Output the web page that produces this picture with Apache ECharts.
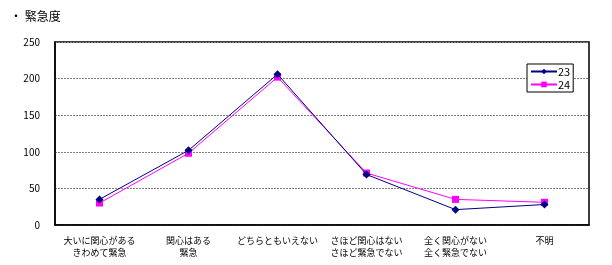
<!DOCTYPE html>
<html><head><meta charset="utf-8">
<script src="https://cdn.jsdelivr.net/npm/echarts@6/dist/echarts.min.js"></script>
<style>html,body{margin:0;padding:0;background:#fff}#c{width:612px;height:265px}</style>
</head><body><div id="c"></div>
<script>
const categories = ['大いに関心がある\nきわめて緊急','関心はある\n緊急','どちらともいえない','さほど関心はない\nさほど緊急でない','全く関心がない\n全く緊急でない','不明'];
const series23 = [35, 102, 206, 69, 21, 28];
const series24 = [30, 98, 202, 71, 35, 31];
const seriesNames = ['23', '24'];
const yTicks = [0, 50, 100, 150, 200, 250];
const title = '・ 緊急度';

const font = '"Noto Sans CJK JP", sans-serif';
const chart = echarts.init(document.getElementById('c'), null, {renderer: 'canvas'});
chart.setOption({
  animation: false,
  title: {text: title, left: 5, top: 5, textStyle: {fontFamily: font, fontSize: 12, fontWeight: 'normal', color: '#000'}},
  grid: {left: 55, right: 23, top: 42, bottom: 40, containLabel: false, show: true, borderColor: '#000', borderWidth: 1.5, backgroundColor: '#fff'},
  legend: {
    data: seriesNames, orient: 'vertical', left: 527, top: 64,
    itemWidth: 26, itemHeight: 7, itemGap: 2, padding: [2, 3, 2, 3],
    borderColor: '#000', borderWidth: 1, backgroundColor: '#fff',
    textStyle: {fontFamily: font, fontSize: 11, lineHeight: 11, color: '#000', padding: [0, 0, 0, -4]}
  },
  xAxis: {
    type: 'category', data: categories, boundaryGap: true,
    axisLine: {show: true, lineStyle: {color: '#000', width: 1.5}},
    axisTick: {show: false},
    axisLabel: {fontFamily: font, fontSize: 9, color: '#000', margin: 10, lineHeight: 12, interval: 0}
  },
  yAxis: {
    type: 'value', min: yTicks[0], max: yTicks[yTicks.length - 1], interval: 50,
    axisLine: {show: true, lineStyle: {color: '#000', width: 1.5}},
    axisTick: {show: false},
    axisLabel: {fontFamily: font, fontSize: 10, color: '#000', margin: 15},
    splitLine: {show: true, lineStyle: {color: '#808080', width: 1, type: [2, 1]}}
  },
  series: [
    {name: seriesNames[0], type: 'line', data: series23, symbol: 'diamond', symbolSize: 8,
     itemStyle: {color: '#000080'}, lineStyle: {color: '#000080', width: 1}, z: 3},
    {name: seriesNames[1], type: 'line', data: series24, symbol: 'rect', symbolSize: 7,
     itemStyle: {color: '#FF00FF'}, lineStyle: {color: '#FF00FF', width: 1}, z: 2}
  ]
});
</script></body></html>
